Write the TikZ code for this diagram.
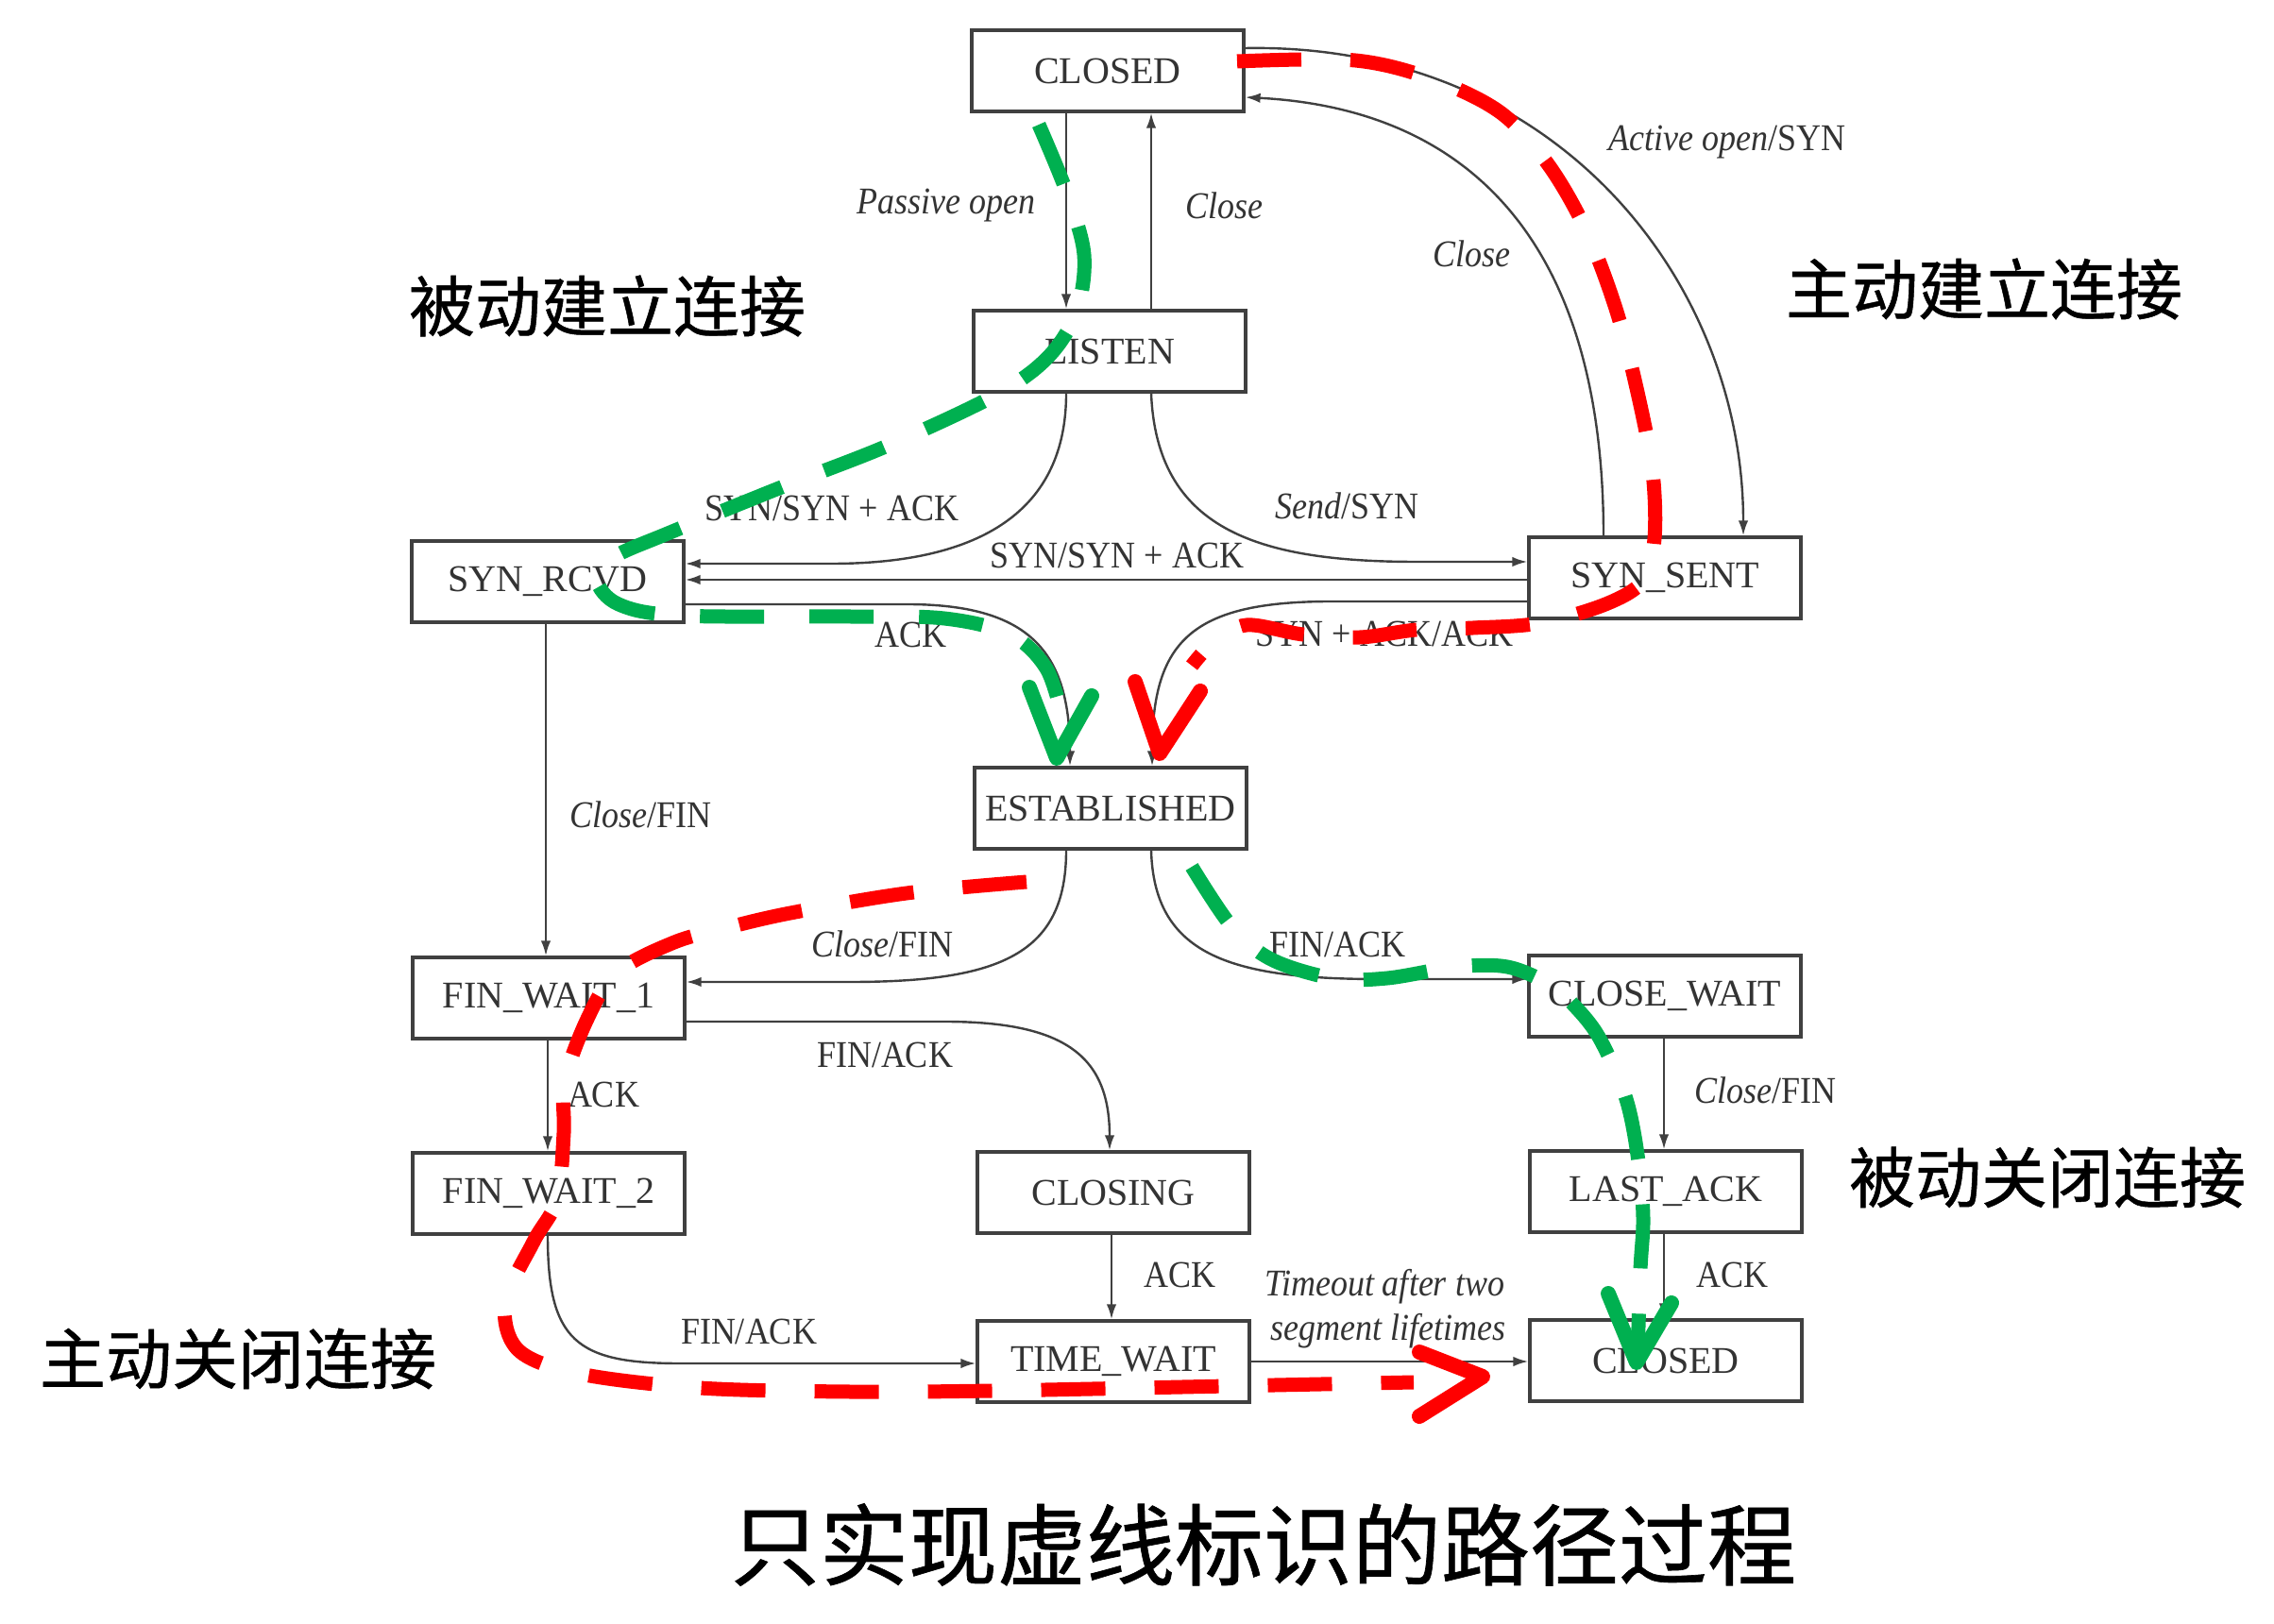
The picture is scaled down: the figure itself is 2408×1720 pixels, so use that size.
\documentclass[tikz,border=0pt]{standalone}
\usepackage{fontspec}
\setmainfont{Liberation Serif}
\newfontfamily\lblfont[FakeStretch=0.9]{Liberation Serif}
\newfontfamily\cjkfont[FakeBold=0.7]{Noto Sans CJK SC}
\usetikzlibrary{arrows.meta}
\definecolor{pathgreen}{RGB}{0,176,80}
\definecolor{pathred}{RGB}{255,0,0}
\begin{document}
\begin{tikzpicture}[x=0.25pt,y=-0.25pt,
  stbox/.style={draw=black!75, line width=0.8pt, minimum width=72pt, minimum height=21.5pt, inner sep=0pt, font=\fontsize{10}{12}\selectfont, text=black!80},
  conn/.style={draw=black!75, line width=0.6pt, -{Latex[length=4pt,width=2.6pt]}},
  lbl/.style={font=\lblfont\fontsize{10}{12}\selectfont, text=black!80, inner sep=0pt},
  cn/.style={font=\cjkfont\fontsize{17.5}{20}\selectfont, inner sep=0pt},
  bigcn/.style={font=\cjkfont\fontsize{23.5}{26}\selectfont, inner sep=0pt},
  gdash/.style={draw=pathgreen, line width=3.75pt, dash pattern=on 17pt off 12pt},
  rdash/.style={draw=pathred, line width=3.75pt, dash pattern=on 17pt off 13pt},
  ghead/.style={draw=pathgreen, line width=4pt, line cap=round, line join=round},
  rhead/.style={draw=pathred, line width=4pt, line cap=round, line join=round}]
\useasboundingbox (0,0) rectangle (2408,1720);

% states
\node[stbox] (closedA) at (1173,75) {CLOSED};
\node[stbox] (listen) at (1175,372) {LISTEN};
\node[stbox] (synrcvd) at (580,616) {SYN\_RCVD};
\node[stbox] (synsent) at (1763,612) {SYN\_SENT};
\node[stbox] (estab) at (1176,856) {ESTABLISHED};
\node[stbox] (fw1) at (581,1057) {FIN\_WAIT\_1};
\node[stbox] (fw2) at (581,1264) {FIN\_WAIT\_2};
\node[stbox] (closing) at (1179,1263) {CLOSING};
\node[stbox] (timewait) at (1179,1442) {TIME\_WAIT};
\node[stbox] (closewait) at (1763,1055) {CLOSE\_WAIT};
\node[stbox] (lastack) at (1764,1262) {LAST\_ACK};
\node[stbox] (closedB) at (1764,1441) {CLOSED};

% transitions
\draw[conn] (closedA.south -| 1129,0) -- (listen.north -| 1129,0);
\draw[conn] (listen.north -| 1219,0) -- (closedA.south -| 1219,0);
\draw[conn] (closedA.east |- 0,51) .. controls (1650,45) and (1846,300) .. (synsent.north -| 1846,0);
\draw[conn] (synsent.north -| 1698,0) .. controls (1698,250) and (1550,115) .. (closedA.east |- 0,103);
\draw[conn] (listen.south -| 1129,0) .. controls (1129,540) and (1040,597) .. (880,597) -- (synrcvd.east |- 0,597);
\draw[conn] (listen.south -| 1219,0) .. controls (1225,560) and (1330,595) .. (1500,595) -- (synsent.west |- 0,595);
\draw[conn] (synsent.west |- 0,614) -- (synrcvd.east |- 0,614);
\draw[conn] (synrcvd.east |- 0,640) -- (960,640) .. controls (1090,640) and (1133,690) .. (estab.north -| 1133,0);
\draw[conn] (synsent.west |- 0,637) -- (1410,637) .. controls (1260,637) and (1220,680) .. (estab.north -| 1220,0);
\draw[conn] (synrcvd.south -| 578,0) -- (fw1.north -| 578,0);
\draw[conn] (estab.south -| 1129,0) .. controls (1129,1010) and (1060,1040) .. (900,1040) -- (fw1.east |- 0,1040);
\draw[conn] (estab.south -| 1219,0) .. controls (1222,1010) and (1300,1037) .. (1460,1037) -- (closewait.west |- 0,1037);
\draw[conn] (fw1.east |- 0,1082) -- (1000,1082) .. controls (1130,1082) and (1175,1120) .. (closing.north -| 1175,0);
\draw[conn] (fw1.south -| 580,0) -- (fw2.north -| 580,0);
\draw[conn] (fw2.south -| 580,0) .. controls (580,1420) and (610,1444) .. (720,1444) -- (timewait.west |- 0,1444);
\draw[conn] (closing.south -| 1177,0) -- (timewait.north -| 1177,0);
\draw[conn] (timewait.east |- 0,1442) -- (closedB.west |- 0,1442);
\draw[conn] (closewait.south -| 1762,0) -- (lastack.north -| 1762,0);
\draw[conn] (lastack.south -| 1762,0) -- (closedB.north -| 1762,0);

% transition labels
\node[lbl, anchor=east] (l1) at (1097,218) {\itshape Passive open};
\node[lbl, anchor=west] (l2) at (1255,218) {\itshape Close};
\node[lbl] (l3) at (1829,151) {{\itshape Active open}/SYN};
\node[lbl] (l4) at (1558,269) {\itshape Close};
\node[lbl] (l5) at (881,538) {SYN/SYN + ACK};
\node[lbl] (l6) at (1426,536) {{\itshape Send}/SYN};
\node[lbl] (l7) at (1183,588) {SYN/SYN + ACK};
\node[lbl] (l8) at (964,672) {ACK};
\node[lbl] (l9) at (1466,671) {SYN + ACK/ACK};
\node[lbl] (l10) at (678,863) {{\itshape Close}/FIN};
\node[lbl] (l11) at (934,1000) {{\itshape Close}/FIN};
\node[lbl] (l12) at (1416,1000) {FIN/ACK};
\node[lbl] (l13) at (937,1117) {FIN/ACK};
\node[lbl] (l14) at (639,1159) {ACK};
\node[lbl] (l15) at (1869,1155) {{\itshape Close}/FIN};
\node[lbl] (l16) at (793,1410) {FIN/ACK};
\node[lbl] (l17) at (1249,1350) {ACK};
\node[lbl] (l18) at (1466,1363) {\itshape Timeout after two};
\node[lbl] (l19) at (1470,1410) {\itshape segment lifetimes};
\node[lbl] (l20) at (1834,1350) {ACK};

% Chinese annotations
\node[cn] (c1) at (643,324) {被动建立连接};
\node[cn] (c2) at (2101,306) {主动建立连接};
\node[cn] (c3) at (2168,1247) {被动关闭连接};
\node[cn] (c4) at (252,1439) {主动关闭连接};
\node[bigcn] (c5) at (1338,1636) {只实现虚线标识的路径过程};

% green dashed: passive open
\draw[gdash] plot[smooth, tension=0.55] coordinates {(1100,132) (1130,205) (1148,270) (1140,330) (1110,378) (1055,418) (940,472) (830,515) (707,565) (650,590) (632,614) (655,640) (720,652) (900,653) (1000,655) (1070,672) (1108,708) (1125,760)};
\draw[ghead] (1090,728) -- (1119,803) -- (1156,737);

% green dashed: passive close
\draw[gdash] plot[smooth, tension=0.55] coordinates {(1262,918) (1304,981) (1346,1016) (1411,1036) (1469,1036) (1542,1024) (1596,1024) (1640,1042) (1667,1065) (1694,1100) (1722,1164) (1735,1230) (1740,1290) (1737,1345) (1734,1438)};
\draw[ghead] (1703,1370) -- (1733,1443) -- (1770,1380);

% red dashed: active open
\draw[rdash] plot[smooth, tension=0.55] coordinates {(1310,65) (1435,64) (1520,85) (1590,120) (1640,175) (1680,245) (1712,330) (1735,420) (1750,500) (1752,570) (1740,615) (1700,640) (1630,660) (1560,665) (1500,667) (1440,675) (1380,672) (1320,662) (1285,680) (1262,705)};
\draw[rhead] (1202,722) -- (1228,798) -- (1271,732);

% red dashed: active close
\draw[rdash] plot[smooth, tension=0.55] coordinates {(1087,934) (960,946) (837,967) (768,983) (714,998) (653,1030) (622,1079) (598,1145) (597,1200) (590,1270) (565,1315) (535,1380) (549,1430) (614,1455) (741,1470) (900,1474) (1050,1473) (1300,1468) (1497,1464)};
\draw[rhead] (1503,1432) -- (1570,1458) -- (1503,1500);
\end{tikzpicture}
\end{document}
